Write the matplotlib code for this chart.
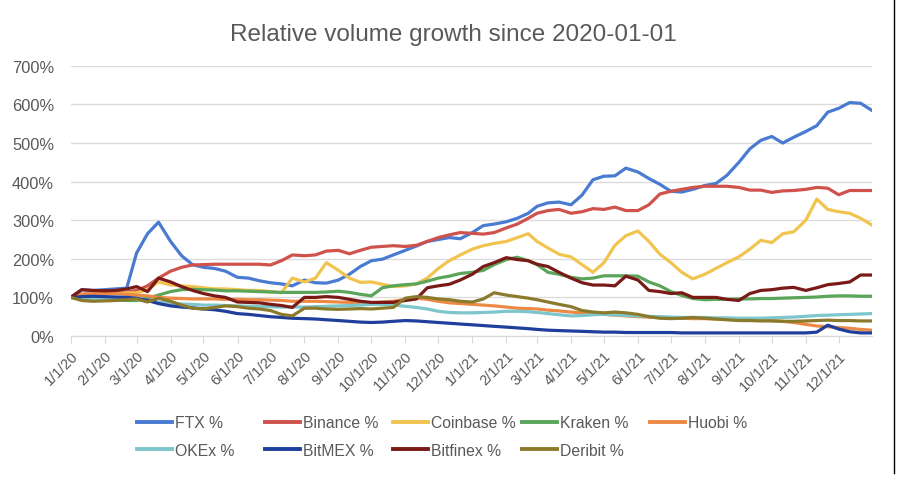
import matplotlib.pyplot as plt
from matplotlib.lines import Line2D
from datetime import date

# sample dates: 1st, 11th and 21st of each month, plus the last day
dates = [date(y, m, d) for y in (2020, 2021) for m in range(1, 13) for d in (1, 11, 21)]
dates.append(date(2021, 12, 31))

# values (% of 2020-01-01 volume)
ftx = [100, 120, 118, 120, 122, 124, 215, 265, 295, 245, 208, 185,
       178, 175, 168, 152, 150, 143, 138, 135, 130, 145, 138, 137,
       145, 160, 180, 195, 199, 210, 222, 233, 245, 250, 255, 252,
       268, 286, 290, 296, 305, 318, 336, 345, 347, 340, 365, 405,
       414, 415, 435, 425, 408, 393, 375, 373, 380, 390, 395, 416,
       450, 485, 507, 517, 500, 515, 530, 545, 580, 590, 605, 603, 585]
binance = [100, 108, 110, 112, 112, 114, 118, 130, 150, 168, 178, 184,
           185, 186, 186, 186, 186, 186, 184, 195, 210, 208, 210, 220,
           222, 213, 222, 230, 232, 234, 232, 235, 245, 255, 262, 268,
           266, 264, 268, 280, 290, 305, 318, 325, 328, 318, 322, 330,
           328, 334, 325, 325, 340, 368, 375, 380, 385, 388, 388, 388,
           385, 378, 378, 372, 376, 377, 380, 385, 383, 366, 377, 377, 377]
coinbase = [100, 105, 110, 110, 110, 112, 112, 120, 140, 132, 130, 128,
            125, 122, 122, 120, 118, 118, 115, 112, 150, 140, 150, 190,
            170, 150, 139, 140, 134, 128, 130, 135, 150, 175, 195, 210,
            225, 234, 240, 245, 255, 265, 245, 228, 212, 205, 185, 165,
            190, 235, 260, 272, 245, 212, 190, 165, 148, 160, 175, 190,
            205, 225, 248, 242, 265, 270, 300, 355, 328, 322, 318, 305, 288]
kraken = [100, 96, 95, 94, 93, 92, 92, 98, 106, 115, 120, 121,
          120, 119, 117, 117, 116, 115, 114, 113, 113, 113, 113, 114,
          116, 113, 108, 104, 125, 130, 133, 135, 142, 150, 155, 162,
          165, 170, 185, 198, 204, 195, 185, 165, 160, 152, 148, 150,
          156, 156, 156, 155, 140, 130, 115, 105, 97, 94, 95, 95,
          96, 96, 97, 97, 98, 99, 100, 101, 103, 104, 104, 103, 103]
huobi = [100, 108, 110, 110, 110, 108, 106, 104, 100, 98, 97, 96,
         96, 96, 95, 95, 94, 94, 93, 92, 90, 90, 90, 89,
         88, 87, 86, 86, 88, 90, 95, 98, 95, 90, 86, 84,
         82, 80, 78, 75, 72, 71, 70, 67, 65, 62, 60, 58,
         56, 54, 52, 50, 49, 48, 47, 46, 45, 45, 44, 43,
         42, 42, 41, 40, 38, 35, 30, 26, 24, 22, 20, 17, 15]
okex = [100, 98, 97, 96, 95, 95, 95, 92, 88, 85, 83, 82,
        80, 80, 79, 78, 77, 77, 76, 75, 75, 75, 76, 77,
        78, 79, 80, 82, 82, 80, 77, 74, 70, 64, 61, 60,
        60, 61, 62, 64, 64, 63, 61, 58, 55, 52, 53, 55,
        56, 55, 53, 52, 51, 50, 49, 48, 48, 48, 47, 47,
        46, 46, 46, 47, 48, 49, 51, 53, 54, 55, 56, 57, 58]
bitmex = [100, 102, 103, 102, 101, 100, 98, 92, 84, 78, 75, 73,
          70, 68, 64, 58, 56, 53, 50, 48, 46, 45, 44, 42,
          40, 38, 36, 35, 36, 38, 40, 39, 37, 35, 33, 31,
          29, 27, 25, 23, 21, 19, 17, 15, 14, 13, 12, 11,
          10, 10, 9, 9, 9, 9, 9, 8, 8, 8, 8, 8,
          8, 8, 8, 8, 8, 8, 8, 10, 28, 18, 11, 8, 8]
bitfinex = [100, 120, 118, 117, 118, 122, 128, 115, 150, 140, 128, 118,
            110, 104, 100, 88, 87, 86, 82, 79, 74, 100, 100, 102,
            100, 95, 90, 87, 87, 87, 92, 96, 125, 130, 134, 145,
            160, 180, 190, 203, 198, 195, 186, 180, 165, 150, 138, 132,
            132, 130, 155, 145, 118, 115, 110, 112, 100, 100, 100, 95,
            92, 110, 118, 120, 124, 126, 118, 125, 133, 136, 140, 158, 158]
deribit = [100, 92, 90, 91, 92, 94, 96, 88, 98, 90, 80, 72,
           70, 74, 78, 76, 72, 70, 66, 56, 52, 72, 72, 70,
           69, 70, 71, 70, 72, 74, 98, 102, 100, 96, 94, 90,
           88, 96, 112, 106, 102, 98, 94, 88, 82, 76, 66, 62,
           60, 62, 60, 56, 50, 46, 45, 46, 48, 46, 44, 42,
           40, 40, 39, 39, 38, 38, 39, 40, 41, 40, 40, 39, 39]

names = ["FTX %", "Binance %", "Coinbase %", "Kraken %", "Huobi %",
         "OKEx %", "BitMEX %", "Bitfinex %", "Deribit %"]
series = [ftx, binance, coinbase, kraken, huobi, okex, bitmex, bitfinex, deribit]
colors = ["#4a7bd2", "#cf524c", "#f0c44e", "#5aa55a", "#ec8a45",
          "#7cc6cc", "#1f3f9c", "#7a1a17", "#8c7a2c"]

grey = "#595959"
plt.rcParams['font.family'] = ['Liberation Sans', 'DejaVu Sans']

fig = plt.figure(figsize=(9.07, 4.81), dpi=100)
ax = fig.add_axes([0.078, 0.2994, 0.883, 0.5616])

for name, vals, c in zip(names, series, colors):
    ax.plot(dates, vals, color=c, lw=2.3, label=name, solid_joinstyle='round')

ax.set_ylim(0, 700)
ax.set_yticks(range(0, 701, 100))
ax.set_yticklabels([f"{v}%" for v in range(0, 701, 100)])
ax.set_xlim(date(2020, 1, 1), date(2021, 12, 31))
months = [date(y, m, 1) for y in (2020, 2021) for m in range(1, 13)]
ax.set_xticks(months)
ax.set_xticklabels([f"{d.month}/1/{d.year % 100}" for d in months],
                   rotation=45, ha='right', rotation_mode='anchor')

ax.grid(axis='y', color='#dcdcdc', lw=1)
ax.set_axisbelow(True)
for s in ['top', 'right', 'left']:
    ax.spines[s].set_visible(False)
ax.spines['bottom'].set_color('#d9d9d9')
ax.tick_params(axis='y', length=0, pad=12, labelsize=11.8, labelcolor=grey)
ax.tick_params(axis='x', length=5, color='#d9d9d9', pad=4, labelsize=10.5, labelcolor=grey)

fig.text(0.5, 0.928, "Relative volume growth since 2020-01-01", ha='center', va='center',
         fontsize=17.5, color=grey)

# legend: fixed-pitch columns like the original
col_x = [137, 265, 393, 522, 650]
cols = [[0, 5], [1, 6], [2, 7], [3, 8], [4]]
for x, idx in zip(col_x, cols):
    lg = fig.legend([Line2D([], [], color=colors[i], lw=2.8) for i in idx],
                    [names[i] for i in idx], loc='upper left',
                    bbox_to_anchor=(x / 907, 1 - 416 / 481), frameon=False,
                    borderpad=0, borderaxespad=0, handlelength=2.2,
                    handletextpad=0.2, labelspacing=0.8, fontsize=11.3)
    for t in lg.get_texts():
        t.set_color(grey)

# border line at the right edge of the screenshot
fig.add_artist(Line2D([894 / 907, 894 / 907], [7 / 481, 1], color='black', lw=1))

fig.savefig("out.png", dpi=100)
